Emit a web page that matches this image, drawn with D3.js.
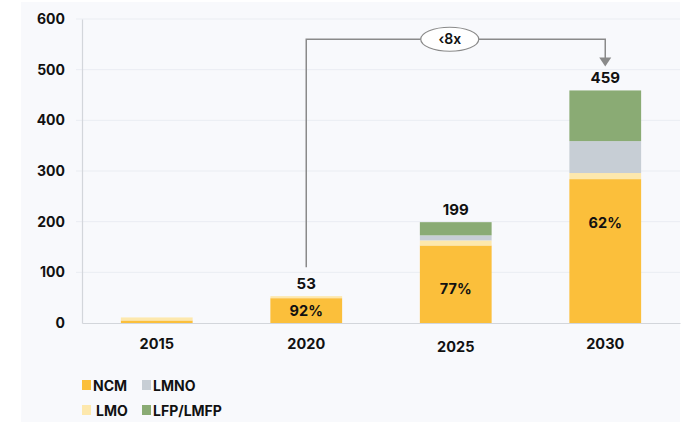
<!DOCTYPE html>
<html>
<head>
<meta charset="utf-8">
<script src="https://cdn.jsdelivr.net/npm/d3@7"></script>
<style>
  body { margin: 0; background: #fff; }
  text { font-family: "Inter", "DejaVu Sans", sans-serif; font-weight: 700; fill: #111; }
</style>
</head>
<body>
<div id="chart"></div>
<script>
const width = 689;
const height = 422;

// data
const years = ["2015", "2020", "2025", "2030"];
const chemistries = ["NCM", "LMO", "LMNO", "LFP/LMFP"];
const ncm = [5, 49, 153, 284];
const lmo = [6, 4, 10, 12];
const lmno = [0, 0, 10, 63];
const lfp = [0, 0, 26, 100];
const yTicks = [0, 100, 200, 300, 400, 500, 600];

const colors = {
    "NCM": "#fbbf3b",
    "LMO": "#fde8ad",
    "LMNO": "#c7ced5",
    "LFP/LMFP": "#8aab74"
};

const rows = years.map((y, i) => ({
    year: y,
    "NCM": ncm[i],
    "LMO": lmo[i],
    "LMNO": lmno[i],
    "LFP/LMFP": lfp[i],
    total: ncm[i] + lmo[i] + lmno[i] + lfp[i]
}));

const margin = {left: 82, right: 9, top: 19, bottom: 99};

const x = d3.scaleBand()
    .domain(years)
    .range([margin.left, width - margin.right])
    .paddingInner(0.52)
    .paddingOuter(0.26);

const y = d3.scaleLinear()
    .domain([0, 600])
    .range([height - margin.bottom, margin.top]);

const svg = d3.select("#chart").append("svg")
    .attr("width", width)
    .attr("height", height);

svg.append("rect")
    .attr("x", 21).attr("y", 2)
    .attr("width", width - 9 - 21).attr("height", height - 2)
    .attr("fill", "#f8f9fc");

// grid lines
svg.append("g")
    .selectAll("line")
    .data(yTicks.filter(d => d > 0))
    .join("line")
    .attr("x1", 76)
    .attr("x2", width - margin.right)
    .attr("y1", d => y(d))
    .attr("y2", d => y(d))
    .attr("stroke", "#eaedf2")
    .attr("stroke-width", 1);

// y axis
const yAxis = svg.append("g")
    .attr("transform", `translate(${margin.left},0)`)
    .call(d3.axisLeft(y).tickValues(yTicks).tickSize(0).tickPadding(17));
yAxis.select(".domain").attr("stroke", "#d3d6db").attr("stroke-width", 1.2);
yAxis.selectAll("text").style("font-size", "14px").style("font-family", "Inter, sans-serif").attr("fill", "#111");

// x axis
const xAxis = svg.append("g")
    .attr("transform", `translate(0,${y(0)})`)
    .call(d3.axisBottom(x).tickSize(0).tickPadding(15));
xAxis.select(".domain").attr("stroke", "#d3d6db").attr("stroke-width", 1.2);
xAxis.selectAll("text").style("font-size", "14.5px").style("font-family", "Inter, sans-serif").attr("fill", "#111")
    .attr("dy", d => d === "2025" ? "0.95em" : "0.75em");

// stacked bars
const stack = d3.stack().keys(chemistries);
const series = stack(rows);

svg.append("g")
    .selectAll("g")
    .data(series)
    .join("g")
    .attr("fill", d => colors[d.key])
    .selectAll("rect")
    .data(d => d)
    .join("rect")
    .attr("x", d => x(d.data.year))
    .attr("width", x.bandwidth())
    .attr("y", d => y(d[1]))
    .attr("height", d => y(d[0]) - y(d[1]));

// totals above bars
svg.append("g")
    .selectAll("text")
    .data(rows.filter(d => d.total > 20))
    .join("text")
    .attr("x", d => x(d.year) + x.bandwidth() / 2)
    .attr("y", d => y(d.total) - 7)
    .attr("text-anchor", "middle")
    .style("font-size", "15px")
    .text(d => d.total);

// NCM share inside bars
svg.append("g")
    .selectAll("text")
    .data(rows.filter(d => d.total > 20))
    .join("text")
    .attr("x", d => x(d.year) + x.bandwidth() / 2)
    .attr("y", d => d.NCM < 100 ? y(d.NCM / 2) + 5 : y(d.NCM) + 49)
    .attr("text-anchor", "middle")
    .style("font-size", "14.5px")
    .text(d => Math.round(d.NCM / d.total * 100) + "%");

// growth annotation 2020 -> 2030
const r2020 = rows[1], r2030 = rows[3];
const xa = x("2020") + x.bandwidth() / 2;
const xb = x("2030") + x.bandwidth() / 2;
const yTop = y(560);
svg.append("path")
    .attr("d", `M${xa},${y(r2020.total) - 29}V${yTop}H${xb}V${y(r2030.total) - 32}`)
    .attr("fill", "none")
    .attr("stroke", "#8a8a8a")
    .attr("stroke-width", 1.5);
svg.append("path")
    .attr("d", `M${xb - 6},${y(r2030.total) - 33}L${xb + 6},${y(r2030.total) - 33}L${xb},${y(r2030.total) - 24}Z`)
    .attr("fill", "#8a8a8a");
const xm = x("2025") + x.bandwidth() / 2 - 6;
svg.append("ellipse")
    .attr("cx", xm).attr("cy", yTop)
    .attr("rx", 29).attr("ry", 12)
    .attr("fill", "#fff")
    .attr("stroke", "#8a8a8a")
    .attr("stroke-width", 1.2);
svg.append("text")
    .attr("x", xm).attr("y", yTop + 5)
    .attr("text-anchor", "middle")
    .style("font-size", "14px")
    .style("font-weight", "600")
    .attr("fill", "#222")
    .text("‹8x");

// legend
const legendPos = [
    {key: "NCM", x: 82, y: 385},
    {key: "LMNO", x: 142, y: 385},
    {key: "LMO", x: 82, y: 410},
    {key: "LFP/LMFP", x: 142, y: 410}
];
const legend = svg.append("g")
    .selectAll("g")
    .data(legendPos)
    .join("g")
    .attr("transform", d => `translate(${d.x},${d.y})`);
legend.append("rect")
    .attr("x", 0).attr("y", -5)
    .attr("width", 9).attr("height", 10)
    .attr("fill", d => colors[d.key]);
legend.append("text")
    .attr("x", d => d.key === "LMO" ? 14 : 11)
    .attr("y", 5.5)
    .style("font-size", "14px")
    .text(d => d.key);
</script>
</body>
</html>
